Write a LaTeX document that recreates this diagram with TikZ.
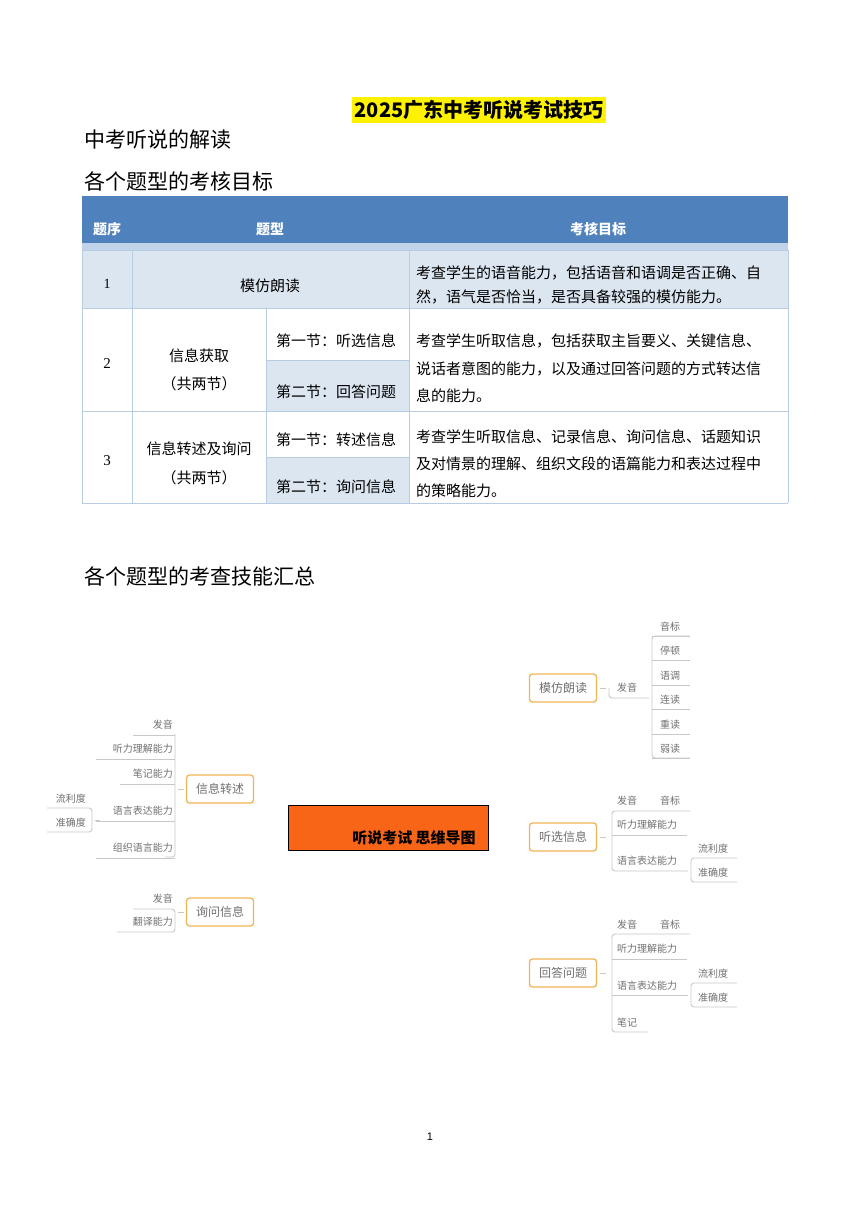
\documentclass[tikz,border=0pt]{standalone}
\usepackage{fontspec}
\setmainfont{Noto Sans CJK SC}
\usetikzlibrary{backgrounds}
\definecolor{hdr}{HTML}{4F81BD}
\definecolor{lite}{HTML}{DCE6F1}
\definecolor{tline}{HTML}{B8CCE4}
\definecolor{org}{HTML}{F96516}
\definecolor{bord}{HTML}{F2B553}
\definecolor{gtx}{HTML}{707070}
\definecolor{gln}{HTML}{C8C8C8}
\begin{document}
\begin{tikzpicture}[x=1pt,y=-1pt,
  tt/.style={font=\fontsize{15}{15}\selectfont,inner sep=0},
  hd/.style={font=\fontsize{21}{21}\selectfont,anchor=west,inner sep=0},
  hw/.style={font=\fontsize{14}{14}\selectfont\bfseries,text=white,inner sep=0},
  br/.style={draw=bord,line width=1.3pt,rounded corners=3pt,fill=white,minimum width=67pt,minimum height=28pt,font=\fontsize{12}{12}\selectfont,text=gtx},
  sm/.style={font=\fontsize{10}{10}\selectfont,text=gtx,inner sep=0},
  gl/.style={draw=gln,line width=0.9pt},
  cv/.style={draw=gln!80!black!60,line width=1.2pt}]
\useasboundingbox (0,0) rectangle (860,1216);
\fill[white] (0,0) rectangle (860,1216);
% title
\node[fill=yellow,inner xsep=3pt,inner ysep=3pt,font=\fontsize{20}{20}\selectfont\bfseries] (title) at (479,110) {2025广东中考听说考试技巧};
\node[hd] (h1) at (84,140) {中考听说的解读};
\node[hd] (h2) at (84,181) {各个题型的考核目标};
\node[hd] (h3) at (84,576) {各个题型的考查技能汇总};
% table
\fill[hdr] (82,196) rectangle (788,243);
\fill[hdr!35] (82,243) rectangle (788,250);
\fill[lite] (82,250) rectangle (788,308);
\fill[lite] (266,360) rectangle (409,411);
\fill[lite] (266,457) rectangle (409,503);
\draw[tline] (82,250) -- (788,250) (82,308) -- (788,308) (82,411) -- (788,411) (82,503) -- (788,503)
 (266,360) -- (409,360) (266,457) -- (409,457)
 (82,250) -- (82,503) (788,250) -- (788,503) (132,250) -- (132,503) (409,250) -- (409,503) (266,308) -- (266,503);
\node[hw] (c1) at (107,229) {题序};
\node[hw] (c2) at (270,229) {题型};
\node[hw] (c3) at (598,229) {考核目标};
\node[tt,font=\fontsize{14}{14}\selectfont\rmfamily] (n1) at (107,284) {\fontspec{Liberation Serif}1};
\node[tt] (r1) at (270,286) {模仿朗读};
\node[tt,anchor=west] (r1a) at (416,273) {考查学生的语音能力，包括语音和语调是否正确、自};
\node[tt,anchor=west] (r1b) at (416,297) {然，语气是否恰当，是否具备较强的模仿能力。};
\node[tt] (n2) at (107,364) {\fontspec{Liberation Serif}2};
\node[tt] (r2) at (199,356) {信息获取};
\node[tt] (r2b) at (199,384) {（共两节）};
\node[tt] (r2c) at (336,341) {第一节：听选信息};
\node[tt] (r2d) at (336,392) {第二节：回答问题};
\node[tt,anchor=west] (r2e) at (416,341) {考查学生听取信息，包括获取主旨要义、关键信息、};
\node[tt,anchor=west] (r2f) at (416,369) {说话者意图的能力，以及通过回答问题的方式转达信};
\node[tt,anchor=west] (r2g) at (416,396) {息的能力。};
\node[tt] (n3) at (107,461) {\fontspec{Liberation Serif}3};
\node[tt] (r3) at (199,449) {信息转述及询问};
\node[tt] (r3b) at (199,478) {（共两节）};
\node[tt] (r3c) at (336,440) {第一节：转述信息};
\node[tt] (r3d) at (336,487) {第二节：询问信息};
\node[tt,anchor=west] (r3e) at (416,437) {考查学生听取信息、记录信息、询问信息、话题知识};
\node[tt,anchor=west] (r3f) at (416,464) {及对情景的理解、组织文段的语篇能力和表达过程中};
\node[tt,anchor=west] (r3g) at (416,491) {的策略能力。};
% mind map nodes
\node[draw=black,fill=org,minimum width=200pt,minimum height=45pt,inner sep=0] (ctr) at (388,828) {};
\node[font=\fontsize{15}{15}\selectfont\bfseries,inner sep=0] (ctrt) at (414,838) {听说考试 思维导图};
\node[br] (mf) at (563,688) {模仿朗读};
\node[br] (tx) at (563,837) {听选信息};
\node[br] (hd) at (563,973) {回答问题};
\node[br] (zs) at (220,789) {信息转述};
\node[br] (xw) at (220,912) {询问信息};
\begin{scope}[on background layer]
\draw[cv] (388,828) .. controls (395,730) and (460,688) .. (mf.west);
\draw[cv] (388,828) -- (tx.west);
\draw[cv] (388,828) .. controls (395,930) and (460,973) .. (hd.west);
\draw[cv] (388,828) .. controls (340,800) and (300,789) .. (zs.east);
\draw[cv] (388,828) .. controls (340,880) and (300,912) .. (xw.east);
\end{scope}
% left: 信息转述
\foreach \t/\y/\x [count=\i] in {发音/725/133,听力理解能力/749/96,笔记能力/774/120,语言表达能力/811/96,组织语言能力/848/96}{
  \node[sm,anchor=east] (zl\i) at (173,\y) {\t};
  \draw[gl] (\x,\y+10) -- (175,\y+10);}
\draw[gl,rounded corners=3pt] (zl1.south east) ++(2,4) -- (175,857) -- (165,857);
\draw[gl] (178,789) -- (184,789);
\node[sm,anchor=east] (lz1) at (86,799) {流利度};
\node[sm,anchor=east] (lz2) at (86,823) {准确度};
\draw[gl,rounded corners=3pt] (47,808) -- (92,808) -- (92,832) -- (47,832);
\draw[gl] (95,820) -- (100,820);
% left: 询问信息
\node[sm,anchor=east] (xl1) at (173,899) {发音};
\node[sm,anchor=east] (xl2) at (173,922) {翻译能力};
\draw[gl,rounded corners=3pt] (133,909) -- (175,909) -- (175,932) -- (117,932);
\draw[gl] (178,912) -- (184,912);
% right: 模仿朗读
\draw[gl] (600,688) -- (606,688);
\node[sm] (fy) at (627,688) {发音};
\draw[gl,rounded corners=3pt] (609,688) -- (609,698) -- (649,698);
\foreach \t/\y [count=\i] in {音标/627,停顿/651,语调/676,连读/700,重读/725,弱读/749}{
  \node[sm,anchor=west] (m\i) at (660,\y) {\t};
  \draw[gl] (652,\y+9) -- (690,\y+9);}
\draw[gl,rounded corners=3pt] (690,636) -- (652,636) -- (652,758) -- (690,758);
% right: 听选信息
\draw[gl] (600,837) -- (606,837);
\node[sm,anchor=west] (t1) at (617,801) {发音};
\node[sm,anchor=west] (t1b) at (660,801) {音标};
\node[sm,anchor=west] (t2) at (617,825) {听力理解能力};
\node[sm,anchor=west] (t3) at (617,861) {语言表达能力};
\draw[gl,rounded corners=3pt] (690,811) -- (612,811) -- (612,871) -- (688,871);
\draw[gl] (612,835) -- (687,835);
\node[sm,anchor=west] (t4) at (698,849) {流利度};
\node[sm,anchor=west] (t5) at (698,873) {准确度};
\draw[gl,rounded corners=3pt] (737,858) -- (691,858) -- (691,882) -- (737,882);
% right: 回答问题
\draw[gl] (600,973) -- (606,973);
\node[sm,anchor=west] (a1) at (617,925) {发音};
\node[sm,anchor=west] (a1b) at (660,925) {音标};
\node[sm,anchor=west] (a2) at (617,949) {听力理解能力};
\node[sm,anchor=west] (a3) at (617,986) {语言表达能力};
\node[sm,anchor=west] (a4) at (617,1023) {笔记};
\draw[gl,rounded corners=3pt] (690,934) -- (612,934) -- (612,1032) -- (648,1032);
\draw[gl] (612,959) -- (687,959) (612,995) -- (688,995);
\node[sm,anchor=west] (a5) at (698,974) {流利度};
\node[sm,anchor=west] (a6) at (698,998) {准确度};
\draw[gl,rounded corners=3pt] (737,983) -- (691,983) -- (691,1007) -- (737,1007);
\node[font=\fontsize{11}{11}\selectfont,inner sep=0] (pg) at (430,1137) {\fontspec{Liberation Sans}1};
\end{tikzpicture}
\end{document}
